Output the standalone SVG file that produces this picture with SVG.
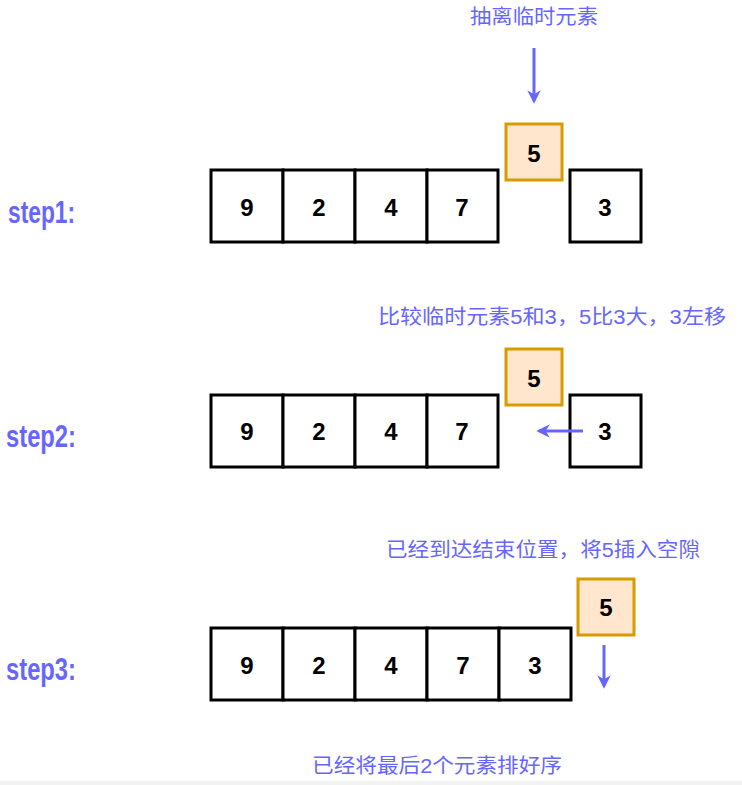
<svg xmlns="http://www.w3.org/2000/svg" width="742" height="785" viewBox="0 0 742 785">
<style>
.cell{fill:#fff;stroke:#000;stroke-width:3}
.tmp{fill:#ffe6cc;stroke:#d79b00;stroke-width:3}
.num{font-family:"Liberation Sans",Arial,sans-serif;font-size:24px;font-weight:bold;fill:#000;text-anchor:middle;dominant-baseline:central}
.note{font-family:"Liberation Sans","Noto Sans CJK SC",sans-serif;font-size:20px;fill:#6666ff}
.step{font-family:"Comic Sans MS","Liberation Sans",sans-serif;font-size:31px;font-weight:bold;fill:#6666ff}
.arr{stroke:#6666ff;stroke-width:3;fill:none;marker-end:url(#ah)}
</style>
<defs>
<marker id="ah" viewBox="0 0 10 10" refX="8" refY="5" markerWidth="4.5" markerHeight="4.5" orient="auto" markerUnits="strokeWidth">
<path d="M0,0 L10,5 L0,10 L3,5 Z" fill="#6666ff"/>
</marker>
</defs>
<rect x="0" y="781" width="742" height="4" fill="#f2f2f2"/>
<g id="labels">
<text class="step" x="8" y="223" textLength="67" lengthAdjust="spacingAndGlyphs">step1:</text>
<text class="step" x="6" y="447" textLength="70" lengthAdjust="spacingAndGlyphs">step2:</text>
<text class="step" x="6" y="680" textLength="70" lengthAdjust="spacingAndGlyphs">step3:</text>
<text class="note" x="470" y="24" textLength="128" lengthAdjust="spacingAndGlyphs">抽离临时元素</text>
<text class="note" x="378" y="324" textLength="348" lengthAdjust="spacingAndGlyphs">比较临时元素5和3，5比3大，3左移</text>
<text class="note" x="386" y="557" textLength="314" lengthAdjust="spacingAndGlyphs">已经到达结束位置，将5插入空隙</text>
<text class="note" x="312" y="773" textLength="250" lengthAdjust="spacingAndGlyphs">已经将最后2个元素排好序</text>
</g>
<g id="step1">
<g id="s1c1"><rect class="cell" x="211" y="170" width="72" height="72"/><text class="num" x="247" y="207">9</text></g>
<g id="s1c2"><rect class="cell" x="283" y="170" width="72" height="72"/><text class="num" x="319" y="207">2</text></g>
<g id="s1c3"><rect class="cell" x="355" y="170" width="72" height="72"/><text class="num" x="391" y="207">4</text></g>
<g id="s1c4"><rect class="cell" x="427" y="170" width="71" height="72"/><text class="num" x="462" y="207">7</text></g>
<g id="s1c5"><rect class="cell" x="570" y="170" width="71" height="72"/><text class="num" x="605" y="207">3</text></g>
<g id="s1t"><rect class="tmp" x="506" y="124" width="56" height="56"/><text class="num" x="534" y="153">5</text></g>
</g>
<g id="step2">
<g id="s2c1"><rect class="cell" x="211" y="395" width="72" height="72"/><text class="num" x="247" y="431">9</text></g>
<g id="s2c2"><rect class="cell" x="283" y="395" width="72" height="72"/><text class="num" x="319" y="431">2</text></g>
<g id="s2c3"><rect class="cell" x="355" y="395" width="72" height="72"/><text class="num" x="391" y="431">4</text></g>
<g id="s2c4"><rect class="cell" x="427" y="395" width="71" height="72"/><text class="num" x="462" y="431">7</text></g>
<g id="s2c5"><rect class="cell" x="570" y="395" width="71" height="72"/><text class="num" x="605" y="431">3</text></g>
<g id="s2t"><rect class="tmp" x="506" y="349" width="56" height="56"/><text class="num" x="534" y="378">5</text></g>
</g>
<g id="step3">
<g id="s3c1"><rect class="cell" x="211" y="628" width="72" height="72"/><text class="num" x="247" y="665">9</text></g>
<g id="s3c2"><rect class="cell" x="283" y="628" width="72" height="72"/><text class="num" x="319" y="665">2</text></g>
<g id="s3c3"><rect class="cell" x="355" y="628" width="72" height="72"/><text class="num" x="391" y="665">4</text></g>
<g id="s3c4"><rect class="cell" x="427" y="628" width="72" height="72"/><text class="num" x="463" y="665">7</text></g>
<g id="s3c5"><rect class="cell" x="499" y="628" width="72" height="72"/><text class="num" x="535" y="665">3</text></g>
<g id="s3t"><rect class="tmp" x="578" y="579" width="56" height="56"/><text class="num" x="606" y="607">5</text></g>
</g>
<g id="connectors">
<line class="arr" x1="534" y1="48" x2="534" y2="101"/>
<line class="arr" x1="583" y1="431" x2="539" y2="431"/>
<line class="arr" x1="604" y1="645" x2="604" y2="686"/>
</g>
</svg>
